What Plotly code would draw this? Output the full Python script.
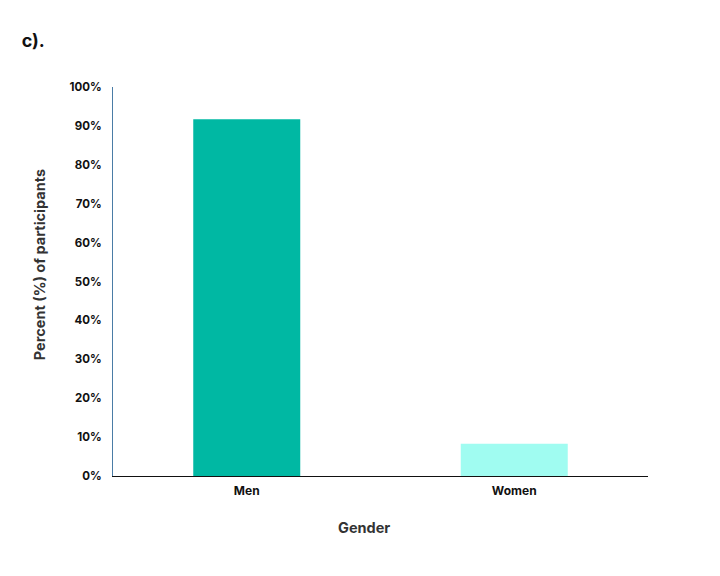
import plotly.graph_objects as go

genders = ["Men", "Women"]
percent = [91.7, 8.3]
bar_colors = ["#00b8a3", "#a0fcf1"]
y_ticks = [0, 10, 20, 30, 40, 50, 60, 70, 80, 90, 100]
y_labels = [f"{v}%" for v in y_ticks]

fig = go.Figure()
fig.add_trace(go.Bar(x=genders, y=percent, marker=dict(color=bar_colors, line=dict(width=0)),
                     width=0.4, hoverinfo="x+y"))

fig.update_layout(
    width=720,
    height=576,
    paper_bgcolor="white",
    plot_bgcolor="white",
    showlegend=False,
    font=dict(family="Inter, Lato, sans-serif", color="#111111"),
    # page is drawn 8px in from the window corner
    margin=dict(l=105, r=80, t=79, b=108, pad=0),
    title=dict(text="<b>c).</b>", x=0.019, xanchor="left", y=0.944, yanchor="middle",
               font=dict(size=18, color="#111111")),
    xaxis=dict(
        showline=True, linecolor="#111111", linewidth=1.2,
        ticks="", ticklabelstandoff=3, tickfont=dict(size=12, color="#111111", weight="bold"),
        showgrid=False,
    ),
    yaxis=dict(
        range=[0, 100], tickvals=y_ticks, ticktext=y_labels,
        showline=True, linecolor="#4a7ca6", linewidth=1.2,
        ticks="", ticklabelstandoff=8, tickfont=dict(size=11.5, color="#111111", weight="bold"),
        showgrid=False, zeroline=False,
    ),
)

# axis titles sit a little off-centre in the original, so place them as annotations
fig.add_annotation(text="<b>Percent (%) of participants</b>", textangle=-90,
                   xref="paper", yref="paper", x=0, y=0.542, xanchor="center", yanchor="middle",
                   xshift=-74, showarrow=False, font=dict(size=14.5, color="#333333"))
fig.add_annotation(text="<b>Gender</b>", xref="paper", yref="paper", x=0.47, y=0,
                   xanchor="center", yanchor="middle", yshift=-51, showarrow=False,
                   font=dict(size=14.5, color="#333333"))

fig.write_html("out.html")
